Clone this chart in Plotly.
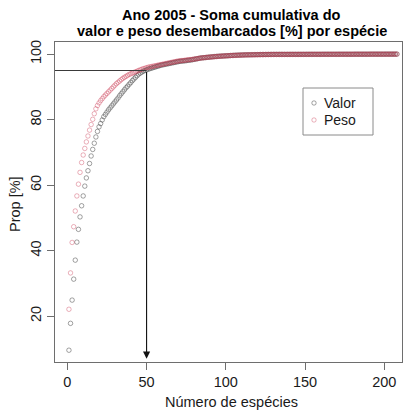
import plotly.graph_objects as go

# Cumulative share (%) of landed value and landed weight, species ranked by contribution
valor = [
    9.6, 17.8, 24.9, 31.3, 37.1, 42.6, 46.5, 50.3, 53.7, 56.7,
    59.7, 62.2, 64.4, 66.6, 68.9, 70.9, 72.8, 74.7, 76.4, 77.8,
    78.8, 79.9, 80.9, 81.6, 82.3, 83.0, 83.6, 84.2, 84.8, 85.4,
    86.0, 86.6, 87.3, 87.9, 88.5, 89.1, 89.7, 90.2, 90.8, 91.3,
    91.9, 92.4, 92.9, 93.4, 93.9, 94.2, 94.5, 94.8, 95.0, 95.2,
    95.4, 95.55, 95.7, 95.85, 96.0, 96.15, 96.3, 96.45, 96.6, 96.7,
    96.8, 96.9, 97.0, 97.1, 97.2, 97.3, 97.4, 97.5, 97.6, 97.7,
    97.8, 97.85, 97.9, 97.95, 98.0, 98.1, 98.15, 98.2, 98.3, 98.4,
    98.5, 98.6, 98.7, 98.8, 98.85, 98.9, 98.95, 99.0, 99.05, 99.1,
    99.15, 99.2, 99.25, 99.3, 99.33, 99.36, 99.39, 99.42, 99.45, 99.48,
    99.5, 99.53, 99.56, 99.59, 99.62, 99.65, 99.67, 99.69, 99.71, 99.73,
    99.75, 99.77, 99.78, 99.79, 99.8, 99.81, 99.82, 99.83, 99.84, 99.85,
    99.86, 99.87, 99.87, 99.88, 99.88, 99.89, 99.9, 99.9, 99.91, 99.91,
    99.92, 99.92, 99.92, 99.92, 99.92, 99.92, 99.92, 99.92, 99.92, 99.92,
    99.93, 99.93, 99.93, 99.93, 99.93, 99.93, 99.93, 99.93, 99.93, 99.93,
    99.94, 99.94, 99.94, 99.94, 99.94, 99.94, 99.94, 99.94, 99.94, 99.94,
    99.95, 99.95, 99.95, 99.95, 99.95, 99.95, 99.95, 99.95, 99.95, 99.95,
    99.96, 99.96, 99.96, 99.96, 99.96, 99.96, 99.96, 99.96, 99.96, 99.96,
    99.97, 99.97, 99.97, 99.97, 99.97, 99.97, 99.97, 99.97, 99.97, 99.97,
    99.98, 99.98, 99.98, 99.98, 99.98, 99.98, 99.98, 99.98, 99.98, 99.98,
    99.99, 99.99, 99.99, 99.99, 99.99, 99.99, 99.99, 100.0,
]

peso = [
    22.1, 33.2, 42.5, 47.3, 52.1, 56.7, 60.3, 63.9, 66.9, 69.2,
    71.2, 73.2, 75.0, 76.8, 78.5, 80.1, 81.8, 83.3, 84.3, 85.1,
    85.8, 86.4, 87.0, 87.5, 88.0, 88.5, 89.0, 89.5, 90.0, 90.5,
    91.0, 91.4, 91.8, 92.2, 92.6, 92.9, 93.2, 93.5, 93.8, 94.0,
    94.2, 94.4, 94.6, 94.8, 95.0, 95.2, 95.4, 95.55, 95.7, 95.85,
    96.0, 96.1, 96.2, 96.3, 96.4, 96.5, 96.6, 96.7, 96.8, 96.9,
    97.0, 97.1, 97.2, 97.3, 97.4, 97.5, 97.6, 97.7, 97.8, 97.9,
    97.95, 98.0, 98.05, 98.1, 98.2, 98.25, 98.3, 98.35, 98.4, 98.5,
    98.55, 98.6, 98.7, 98.8, 98.85, 98.9, 98.95, 99.0, 99.05, 99.1,
    99.14, 99.18, 99.22, 99.26, 99.3, 99.34, 99.38, 99.41, 99.44, 99.47,
    99.5, 99.53, 99.56, 99.59, 99.61, 99.63, 99.65, 99.67, 99.69, 99.71,
    99.73, 99.75, 99.76, 99.77, 99.78, 99.79, 99.8, 99.81, 99.82, 99.83,
    99.84, 99.85, 99.86, 99.87, 99.88, 99.89, 99.89, 99.9, 99.9, 99.91,
    99.91, 99.91, 99.92, 99.92, 99.92, 99.92, 99.92, 99.92, 99.93, 99.93,
    99.93, 99.93, 99.93, 99.93, 99.93, 99.94, 99.94, 99.94, 99.94, 99.94,
    99.94, 99.94, 99.95, 99.95, 99.95, 99.95, 99.95, 99.95, 99.95, 99.95,
    99.96, 99.96, 99.96, 99.96, 99.96, 99.96, 99.96, 99.96, 99.96, 99.96,
    99.97, 99.97, 99.97, 99.97, 99.97, 99.97, 99.97, 99.97, 99.97, 99.97,
    99.98, 99.98, 99.98, 99.98, 99.98, 99.98, 99.98, 99.98, 99.98, 99.98,
    99.99, 99.99, 99.99, 99.99, 99.99, 99.99, 99.99, 99.99, 99.99, 99.99,
    99.99, 99.99, 99.99, 99.99, 100.0, 100.0, 100.0, 100.0,
]

especies = list(range(1, len(valor) + 1))

x_ticks = [0, 50, 100, 150, 200]
y_ticks = [20, 40, 60, 80, 100]

limiar = 95      # threshold line (%)
n_limiar = 50    # number of species reaching the threshold

series_names = ["Valor", "Peso"]
series_colors = ["rgba(70,70,70,0.5)", "rgba(200,50,75,0.38)"]

FONT = "Liberation Sans, Arial, Helvetica, sans-serif"
TXT = "#1a1a1a"
AXC = "#6e6e6e"

fig = go.Figure()
for name, ys, col in zip(series_names, [valor, peso], series_colors):
    fig.add_trace(go.Scatter(
        x=especies, y=ys, mode="markers", name=name, showlegend=False,
        marker=dict(symbol="circle-open", size=4.5, color=col, line=dict(width=1)),
    ))

# horizontal threshold segment and the arrow down to the species count
fig.add_shape(type="line", xref="x", yref="y", x0=-7.8, x1=n_limiar,
              y0=limiar, y1=limiar, line=dict(color="#3a3a3a", width=1))
fig.add_annotation(x=n_limiar, y=7.0, ax=n_limiar, ay=limiar, xref="x", yref="y",
                   axref="x", ayref="y", text="", showarrow=True,
                   arrowhead=2, arrowsize=1.3, arrowwidth=1.1, arrowcolor="#111")

# plot-area geometry in pixels (used to place the legend box)
L, R, T, B = 55, 402, 42, 362
W, H = R - L, B - T


def px(xp):
    return (xp - L) / W


def py(yp):
    return (B - yp) / H


fig.add_shape(type="rect", xref="paper", yref="paper",
              x0=px(303), x1=px(373), y0=py(135), y1=py(88),
              line=dict(color="#8a8a8a", width=1), fillcolor="white")
for i, (name, col) in enumerate(zip(series_names, series_colors)):
    yc = 103 + 17 * i
    r = 2.2
    fig.add_shape(type="circle", xref="paper", yref="paper",
                  x0=px(314 - r), x1=px(314 + r), y0=py(yc + r), y1=py(yc - r),
                  line=dict(color=col, width=1))
    fig.add_annotation(x=px(322), y=py(yc), xref="paper", yref="paper",
                       text=name, showarrow=False, xanchor="left", yanchor="middle",
                       font=dict(family=FONT, size=14, color=TXT))

# two-line bold title
for line, yc in [("Ano 2005 - Soma cumulativa do", 15),
                 ("valor e peso desembarcados [%] por espécie", 30.5)]:
    fig.add_annotation(x=px(232), y=py(yc), xref="paper", yref="paper",
                       text="<b>" + line + "</b>", showarrow=False,
                       xanchor="center", yanchor="middle",
                       font=dict(family=FONT, size=14.5, color="#000"))

fig.add_annotation(x=px(231), y=py(401.5), xref="paper", yref="paper",
                   text="Número de espécies", showarrow=False,
                   xanchor="center", yanchor="middle",
                   font=dict(family=FONT, size=14.5, color=TXT))
fig.add_annotation(x=px(15), y=py(204), xref="paper", yref="paper",
                   text="Prop [%]", showarrow=False, textangle=-90,
                   xanchor="center", yanchor="middle",
                   font=dict(family=FONT, size=14.5, color=TXT))

axis_common = dict(showgrid=False, zeroline=False, showline=True, mirror=True,
                   linecolor=AXC, linewidth=1, ticks="outside", ticklen=7,
                   tickcolor=AXC, tickwidth=1,
                   tickfont=dict(family=FONT, size=14.5, color=TXT))

fig.update_xaxes(range=[-7.8, 211.2], tickvals=x_ticks, **axis_common)
fig.update_yaxes(range=[6.0, 103.7], tickvals=y_ticks, tickangle=-90, **axis_common)

fig.update_layout(
    width=409, height=412,
    margin=dict(l=L, r=409 - R, t=T, b=412 - B, pad=0),
    paper_bgcolor="white", plot_bgcolor="white",
    font=dict(family=FONT, color=TXT),
)

fig.write_html("out.html")
